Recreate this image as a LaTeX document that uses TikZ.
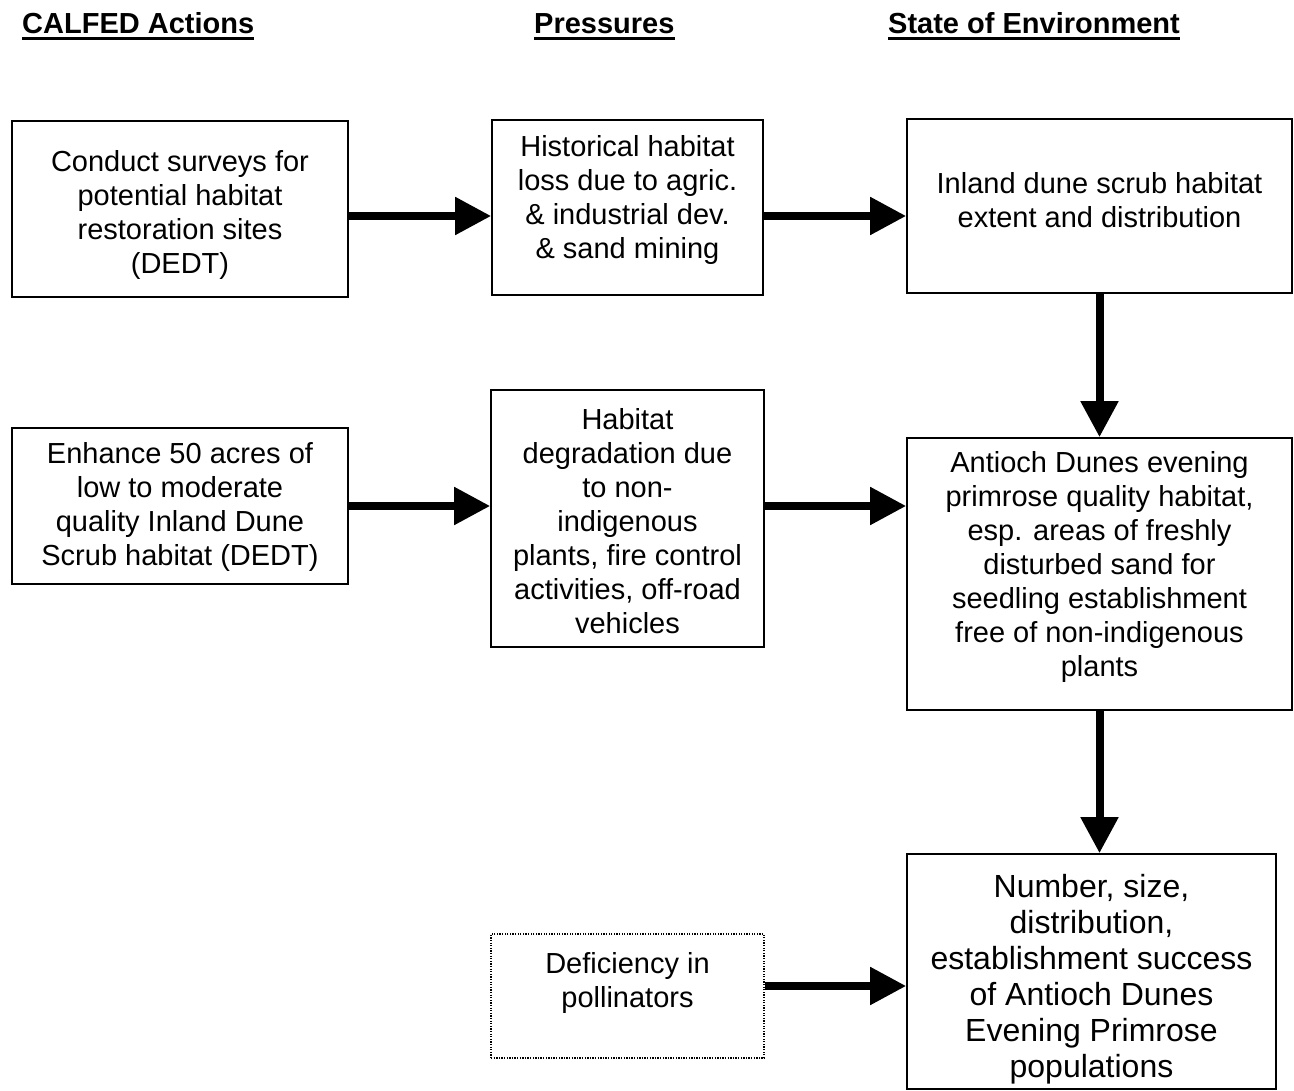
\documentclass[tikz,border=0pt]{standalone}
\usepackage{fontspec}
\setmainfont{Liberation Sans}
\usetikzlibrary{arrows.meta}
\begin{document}
\begin{tikzpicture}[x=1pt,y=-1pt,
  box/.style={draw, line width=1.6pt, inner sep=0pt},
  potbox/.style={draw, line width=1.4pt, dash pattern=on 1.3pt off 1.3pt, inner sep=0pt},
  txt/.style={align=center, font=\fontsize{29}{34}\selectfont, inner sep=0pt},
  bigtxt/.style={align=center, font=\fontsize{32}{36}\selectfont, inner sep=0pt},
  hdr/.style={font=\bfseries\fontsize{29}{34}\selectfont, inner sep=0pt, anchor=base west},
  uline/.style={line width=3pt},
  flow/.style={line width=8pt, -{Triangle[length=36pt,width=36pt]}}]
\useasboundingbox (0,0) rectangle (1294,1091);

% column headings
\node[hdr] (h1) at (22,34) {CALFED Actions};
\node[hdr] (h2) at (534,34) {Pressures};
\node[hdr] (h3) at (888,34) {State of Environment};
\foreach \h in {h1,h2,h3}
  \draw[uline] ([yshift=-4.5pt]\h.base west) -- ([yshift=-4.5pt]\h.base east);

% boxes
\node[box, minimum width=336pt, minimum height=176pt] (A1) at (180,209) {};
\node[box, minimum width=271pt, minimum height=175pt] (P1) at (627.5,207.5) {};
\node[box, minimum width=385pt, minimum height=174pt] (S1) at (1099.5,206) {};
\node[box, minimum width=336pt, minimum height=156pt] (A2) at (180,506) {};
\node[box, minimum width=273pt, minimum height=257pt] (P2) at (627.5,518.5) {};
\node[box, minimum width=385pt, minimum height=272pt] (S2) at (1099.5,574) {};
\node[potbox, minimum width=273pt, minimum height=124pt] (D) at (627.5,996) {};
\node[box, minimum width=369pt, minimum height=235pt] (S3) at (1091.5,971.5) {};

% box texts
\node[txt] (A1t) at (180,214.5) {Conduct surveys for\\potential habitat\\restoration sites\\(DEDT)};
\node[txt] (P1t) at (627.5,200) {Historical habitat\\loss due to agric.\\\& industrial dev.\\\& sand mining};
\node[txt] (S1t) at (1099.5,200.5) {Inland dune scrub habitat\\extent and distribution};
\node[txt] (A2t) at (180,506.5) {Enhance 50 acres of\\low to moderate\\quality Inland Dune\\Scrub habitat (DEDT)};
\node[txt] (P2t) at (627.5,521) {Habitat\\degradation due\\to non-\\indigenous\\plants, fire control\\activities, off-road\\vehicles};
\node[txt] (S2t) at (1099.5,567) {Antioch Dunes evening\\primrose quality habitat,\\esp. areas of freshly\\disturbed sand for\\seedling establishment\\free of non-indigenous\\plants};
\node[txt] (Dt) at (627.5,983) {Deficiency in\\pollinators};
\node[bigtxt] (S3t) at (1091.5,979) {Number, size,\\distribution,\\establishment success\\of Antioch Dunes\\Evening Primrose\\populations};

% connector rows
\coordinate (r1) at (0,216);
\coordinate (r2) at (0,506);
\coordinate (r3) at (0,986);

\draw[flow] (A1.east |- r1) -- (P1.west |- r1);
\draw[flow] (P1.east |- r1) -- (S1.west |- r1);
\draw[flow] (A2.east |- r2) -- (P2.west |- r2);
\draw[flow] (P2.east |- r2) -- (S2.west |- r2);
\draw[flow] (D.east |- r3) -- (S3.west |- r3);
\draw[flow] (S1.south) -- (S1.south |- S2.north);
\draw[flow] (S2.south) -- (S2.south |- S3.north);
\end{tikzpicture}
\end{document}
